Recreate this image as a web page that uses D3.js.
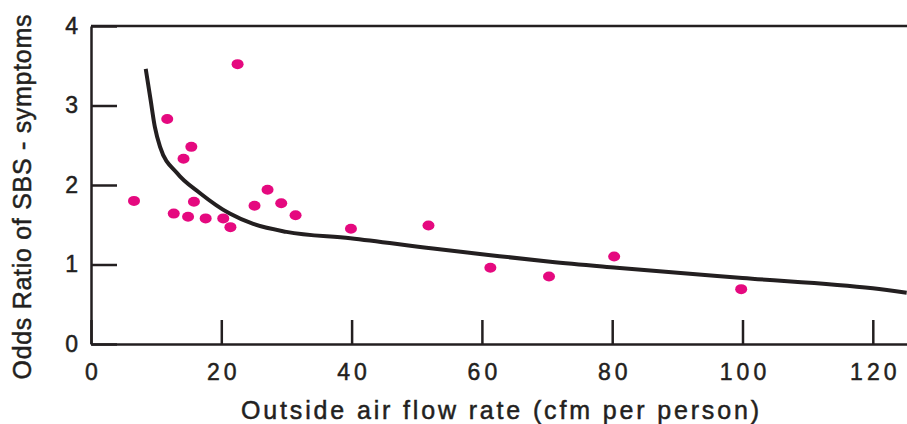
<!DOCTYPE html>
<html lang="en">
<head>
<meta charset="utf-8">
<title>SBS odds ratio vs outside air</title>
<script src="https://d3js.org/d3.v7.min.js"></script>
<style>
  body{margin:0;background:#fff;font-family:"Liberation Sans",Arial,Helvetica,sans-serif;}
  .axis text{font-size:23px;fill:#231f20;stroke:#231f20;stroke-width:0.5px;font-family:"Liberation Sans",Arial,sans-serif;letter-spacing:4px;}
  .axis line,.axis path{stroke:#231f20;stroke-width:2.5;}
  .title{font-size:25px;fill:#231f20;stroke:#231f20;stroke-width:0.5px;}
</style>
</head>
<body>
<div id="chart"></div>
<script>
// measured points (cfm per person, odds ratio)
var flowRate = [6.6, 11.7, 14.2, 15.4, 12.7, 14.9, 15.8, 17.6, 20.3, 21.4, 22.5, 25.1, 27.1, 29.2, 31.4, 39.9, 51.8, 61.3, 70.3, 80.3, 99.8]
var oddsRatio = [1.80, 2.83, 2.33, 2.48, 1.64, 1.60, 1.79, 1.58, 1.58, 1.47, 3.52, 1.74, 1.94, 1.77, 1.62, 1.45, 1.49, 0.96, 0.85, 1.10, 0.69]

// fitted curve
var curveX = [8.4, 9.15, 9.8, 10.6, 13.2, 16.7, 21.3, 24.9, 30.0, 39.8, 52.5, 61.0, 70.5, 80.7, 100, 120, 125.2]
var curveY = [3.46, 3.07, 2.73, 2.48, 2.15, 1.90, 1.64, 1.51, 1.41, 1.33, 1.20, 1.12, 1.035, 0.96, 0.83, 0.70, 0.645]

var xTicks = [0, 20, 40, 60, 80, 100, 120]
var yTicks = [0, 1, 2, 3, 4]

var W = 907, H = 424
var mLeft = 91, mRight = 907, mTop = 26, mBottom = 344

var svg = d3.select("#chart").append("svg")
    .attr("width", W).attr("height", H)

var x = d3.scaleLinear().domain([0, (mRight - mLeft) / 6.515]).range([mLeft, mRight])
var y = d3.scaleLinear().domain([0, 4]).range([mBottom, mTop])

// frame top line
svg.append("line")
    .attr("x1", mLeft).attr("x2", mRight)
    .attr("y1", mTop).attr("y2", mTop)
    .attr("stroke", "#231f20").attr("stroke-width", 2.5)

var gx = svg.append("g").attr("class", "axis")
    .attr("transform", "translate(0," + mBottom + ")")
    .call(d3.axisBottom(x).tickValues(xTicks).tickSize(-24).tickSizeOuter(0).tickPadding(20).tickFormat(d3.format("d")))
gx.selectAll("text").attr("dx", "2px")

var gy = svg.append("g").attr("class", "axis")
    .attr("transform", "translate(" + mLeft + ",0)")
    .call(d3.axisLeft(y).tickValues(yTicks).tickSize(-26).tickSizeOuter(0).tickPadding(9).tickFormat(d3.format("d")))

// curve
var pts = curveX.map(function(d, i){ return [d, curveY[i]] })
svg.append("path")
    .datum(pts)
    .attr("fill", "none")
    .attr("stroke", "#231f20")
    .attr("stroke-width", 4)
    .attr("d", d3.line().x(function(d){ return x(d[0]) }).y(function(d){ return y(d[1]) }).curve(d3.curveMonotoneX))

// dots
svg.selectAll(".dot")
    .data(flowRate)
    .enter()
    .append("ellipse")
    .attr("class", "dot")
    .attr("cx", function(d){ return x(d) })
    .attr("cy", function(d, i){ return y(oddsRatio[i]) })
    .attr("rx", 6)
    .attr("ry", 5)
    .attr("fill", "#e5097f")

svg.append("text").attr("class", "title")
    .attr("x", 500).attr("y", 419)
    .attr("text-anchor", "middle")
    .attr("textLength", 518).attr("lengthAdjust", "spacing")
    .text("Outside air flow rate (cfm per person)")

svg.append("text").attr("class", "title")
    .attr("transform", "translate(31,197) rotate(-90)")
    .attr("text-anchor", "middle")
    .attr("textLength", 365).attr("lengthAdjust", "spacing")
    .text("Odds Ratio of SBS - symptoms")
</script>
</body>
</html>
